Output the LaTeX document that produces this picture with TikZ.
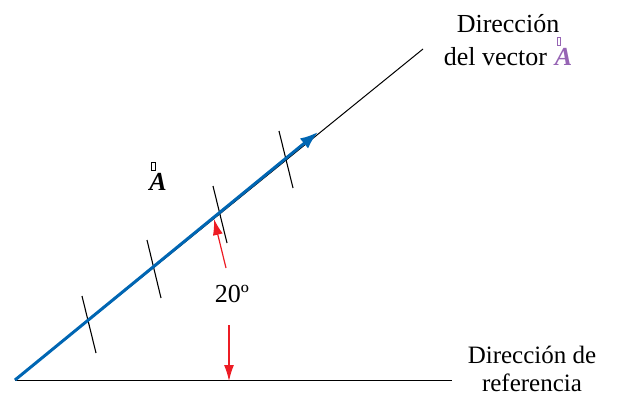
\documentclass[tikz,border=0pt]{standalone}
\usepackage{fontspec}
\setmainfont{Liberation Serif}
\usetikzlibrary{arrows.meta}
\definecolor{vblue}{RGB}{0,102,179}
\definecolor{vred}{RGB}{237,28,36}
\definecolor{vpurple}{RGB}{150,100,180}
\newcommand{\missbox}{\raisebox{0.75em}[0pt][0pt]{\makebox[0pt][l]{\kern0.08em\tikz[baseline]\draw[line width=0.6pt] (0,0) rectangle (3.5pt,8pt);}}}
\begin{document}
\begin{tikzpicture}[x=1pt,y=-1pt,
  refline/.style={line width=1pt,black},
  tickline/.style={line width=1.1pt,black},
  vecline/.style={line width=3pt,vblue,-{Latex[length=18pt,width=13pt]}},
  redarrow/.style={line width=1.2pt,vred,-{Latex[length=16pt,width=10pt]}},
  lbl/.style={font=\fontsize{26}{33}\selectfont,align=center,inner sep=0pt}]
\useasboundingbox (0,0) rectangle (619,399);
\coordinate (O) at (15,380);
\coordinate (H) at (452,380);
\coordinate (D) at (423,49);
\coordinate (T) at (318,132);
\draw[refline] (O) -- (H);
\draw[refline] (O) -- (D);
\coordinate (t1a) at (82,296); \coordinate (t1b) at (96,353);
\coordinate (t2a) at (147,240); \coordinate (t2b) at (161,298);
\coordinate (t3a) at (213,186); \coordinate (t3b) at (227,243);
\coordinate (t4a) at (279,131); \coordinate (t4b) at (293,188);
\draw[tickline] (t1a) -- (t1b);
\draw[tickline] (t2a) -- (t2b);
\draw[tickline] (t3a) -- (t3b);
\draw[tickline] (t4a) -- (t4b);
\draw[vecline] (O) -- (T);
\coordinate (r1s) at (226,268); \coordinate (r1e) at (214,219);
\coordinate (r2s) at (229,325); \coordinate (r2e) at (229,381);
\draw[redarrow] (r1s) -- (r1e);
\draw[redarrow] (r2s) -- (r2e);
\node[lbl,anchor=base] (ang) at (232,302) {20º};
\node[lbl,anchor=base] (vecA) at (158,190) {\missbox\textbf{\textit{A}}};
\node[lbl,anchor=north] (dirv) at (508,14) {Dirección\\del vector\hspace{0.3em}\textcolor{vpurple}{\missbox\textbf{\textit{A}}}};
\node[lbl,font=\fontsize{25}{28}\selectfont,anchor=north] (dirr) at (532,346) {Dirección de\\referencia};
\end{tikzpicture}
\end{document}
